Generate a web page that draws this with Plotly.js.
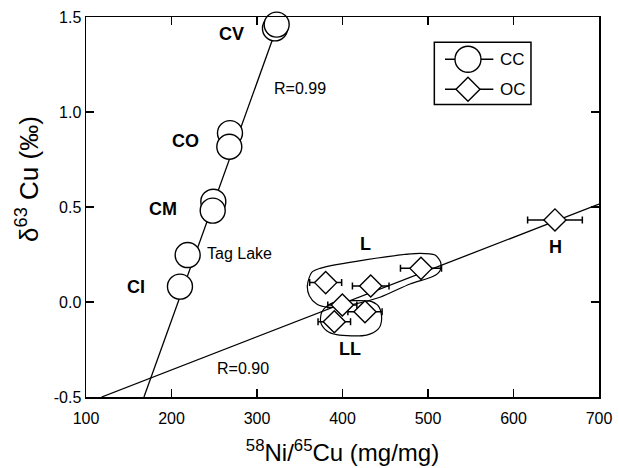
<!DOCTYPE html>
<html>
<head>
<meta charset="utf-8">
<script src="https://cdn.plot.ly/plotly-3.0.1.min.js"></script>
<style>html,body{margin:0;padding:0;background:#fff;}#chart{width:619px;height:468px;}</style>
</head>
<body>
<div id="chart"></div>
<script>
// ---- Data ----
// Carbonaceous chondrites (CC)
const ccX = [321, 323, 268.4, 267.6, 248.9, 248.2, 218.9, 209.9];
const ccY = [1.44, 1.46, 0.889, 0.817, 0.528, 0.481, 0.247, 0.081];
// Ordinary chondrites (OC)
const ocX = [380.3, 433, 491.8, 399.8, 390.4, 426.3, 648.5];
const ocY = [0.102, 0.084, 0.177, -0.016, -0.104, -0.051, 0.432];
const ocErr = [18.7, 21.4, 24, 17, 19, 20, 32];
// Regression lines
const ccFitX = [167.8, 322];
const ccFitY = [-0.5, 1.43];
const ocFitX = [118.3, 700];
const ocFitY = [-0.5, 0.515];
// Group outlines
const lOutlineX = [358.9, 364, 373.7, 428.3, 490.6, 508.2, 514.8, 514, 506.2, 479, 443.9, 408.8, 383.4, 369.8, 361.2, 358.9];
const lOutlineY = [0.086, 0.156, 0.177, 0.223, 0.256, 0.247, 0.209, 0.165, 0.135, 0.095, 0.025, -0.016, -0.028, -0.011, 0.033, 0.086];
const llOutlineX = [383.4, 375.7, 374.5, 381.5, 393.2, 428.3, 441.9, 445.8, 443, 434.2, 412.6, 393.2, 383.4];
const llOutlineY = [-0.016, -0.054, -0.107, -0.151, -0.172, -0.174, -0.142, -0.089, -0.028, 0.002, 0.007, 0.002, -0.016];
// Labels
const groupLabels = ['CV', 'CO', 'CM', 'CI', 'L', 'LL', 'H'];
const groupLabelX = [270.4, 216.4, 189.7, 158.5, 426.9, 408.4, 649.7];
const groupLabelY = [1.41, 0.849, 0.489, 0.077, 0.305, -0.247, 0.288];
const noteLabels = ['Tag Lake', 'R=0.99', 'R=0.90'];
const noteX = [239.2, 317.2, 250.9];
const noteY = [0.253, 1.125, -0.349];
const xTicks = [100, 200, 300, 400, 500, 600, 700];
const yTicks = [-0.5, 0.0, 0.5, 1.0, 1.5];
const yTickLabels = ['-0.5', '0.0', '0.5', '1.0', '1.5'];
const legendNames = ['CC', 'OC'];
const xTitle = '<sup>58</sup>Ni/<sup>65</sup>Cu (mg/mg)';
const yTitle = 'δ<sup>63</sup> Cu (‰)';

const FONT = 'Liberation Sans, Arial, Helvetica, sans-serif';

const traces = [
  {x: lOutlineX, y: lOutlineY, mode: 'lines', line: {color: '#000', width: 1.2, shape: 'spline', smoothing: 0.8}, hoverinfo: 'skip'},
  {x: llOutlineX, y: llOutlineY, mode: 'lines', line: {color: '#000', width: 1.2, shape: 'spline', smoothing: 0.8}, hoverinfo: 'skip'},
  {x: ccFitX, y: ccFitY, mode: 'lines', line: {color: '#000', width: 1.3}},
  {x: ocFitX, y: ocFitY, mode: 'lines', line: {color: '#000', width: 1.3}},
  {x: ocX, y: ocY, mode: 'markers', marker: {size: 1, color: 'rgba(0,0,0,0)'},
   error_x: {type: 'data', array: ocErr, visible: true, color: '#000', thickness: 1.5, width: 3.5}},
  {x: ccX, y: ccY, mode: 'markers', name: legendNames[0], cliponaxis: false,
   marker: {symbol: 'circle', size: 25, color: '#fff', line: {color: '#000', width: 1.4}}},
  {x: ocX, y: ocY, mode: 'markers', name: legendNames[1], cliponaxis: false,
   marker: {symbol: 'diamond', size: 17, color: '#fff', line: {color: '#000', width: 1.4}}}
];
traces.forEach(t => t.showlegend = false);

const annotations = [];
groupLabels.forEach((t, i) => annotations.push({
  x: groupLabelX[i], y: groupLabelY[i], xref: 'x', yref: 'y', text: '<b>' + t + '</b>',
  showarrow: false, xanchor: 'center', yanchor: 'middle', font: {family: FONT, size: 18, color: '#000'}
}));
noteLabels.forEach((t, i) => annotations.push({
  x: noteX[i], y: noteY[i], xref: 'x', yref: 'y', text: t,
  showarrow: false, xanchor: 'left', yanchor: 'middle', font: {family: FONT, size: 16, color: '#000'}
}));
// y-axis title (placed as in the reference, above the axis centre)
annotations.push({
  x: -0.113, y: 0.574, xref: 'paper', yref: 'paper', text: yTitle, textangle: -90,
  showarrow: false, xanchor: 'center', yanchor: 'middle', font: {family: FONT, size: 26, color: '#000'}
});

// Legend (drawn manually)
const lgRowY = [0.8887, 0.8097];
legendNames.forEach((t, i) => annotations.push({
  x: 0.803, y: lgRowY[i], xref: 'paper', yref: 'paper', text: t, showarrow: false,
  xanchor: 'left', yanchor: 'middle', font: {family: FONT, size: 17, color: '#000'}
}));
const shapes = [
  {type: 'rect', xref: 'paper', yref: 'paper', x0: 0.679, x1: 0.8674, y0: 0.770, y1: 0.9334,
   line: {color: '#000', width: 1.5}, fillcolor: '#fff', layer: 'below'},
  {type: 'line', xref: 'paper', yref: 'paper', x0: 0.6998, x1: 0.794, y0: lgRowY[0], y1: lgRowY[0], line: {color: '#000', width: 1.4}},
  {type: 'line', xref: 'paper', yref: 'paper', x0: 0.6998, x1: 0.794, y0: lgRowY[1], y1: lgRowY[1], line: {color: '#000', width: 1.4}},
  {type: 'circle', xref: 'paper', yref: 'paper', xsizemode: 'pixel', ysizemode: 'pixel',
   xanchor: 0.7446, yanchor: lgRowY[0], x0: -13, x1: 13, y0: -13, y1: 13,
   fillcolor: '#fff', line: {color: '#000', width: 1.4}},
  {type: 'path', xref: 'paper', yref: 'paper', xsizemode: 'pixel', ysizemode: 'pixel',
   xanchor: 0.7446, yanchor: lgRowY[1], path: 'M-12,0 L0,12 L12,0 L0,-12 Z',
   fillcolor: '#fff', line: {color: '#000', width: 1.4}}
];

const layout = {
  width: 619, height: 468,
  margin: {l: 86, r: 20, t: 17, b: 71},
  paper_bgcolor: '#fff', plot_bgcolor: '#fff',
  font: {family: FONT, color: '#000'},
  showlegend: false,
  xaxis: {
    range: [100, 700], tickvals: xTicks, ticktext: xTicks.map(String),
    ticks: 'inside', ticklen: 8, tickwidth: 1.3, tickcolor: '#000',
    showline: true, linewidth: 1.5, linecolor: '#000', mirror: 'ticks',
    showgrid: false, zeroline: false, ticklabelstandoff: 6,
    tickfont: {family: FONT, size: 16, color: '#000'},
    title: {text: xTitle, font: {family: FONT, size: 24, color: '#000'}, standoff: 18}
  },
  yaxis: {
    range: [-0.5, 1.5], tickvals: yTicks, ticktext: yTickLabels,
    ticks: 'inside', ticklen: 8, tickwidth: 1.3, tickcolor: '#000',
    showline: true, linewidth: 1.5, linecolor: '#000', mirror: 'ticks',
    showgrid: false, zeroline: false,
    tickfont: {family: FONT, size: 16, color: '#000'}
  },
  annotations: annotations,
  shapes: shapes
};

Plotly.newPlot('chart', traces, layout, {staticPlot: true, displayModeBar: false});
</script>
</body>
</html>
